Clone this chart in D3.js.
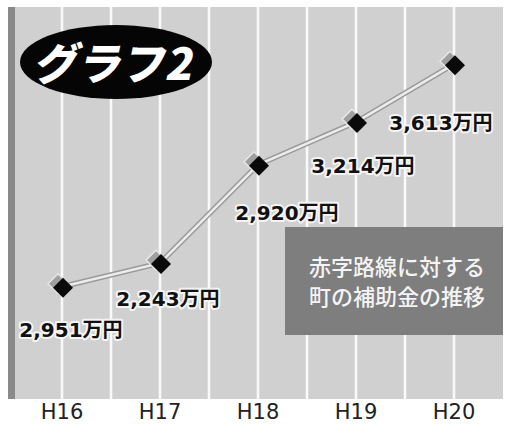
<!DOCTYPE html>
<html><head><meta charset="utf-8">
<script src="https://cdn.jsdelivr.net/npm/d3@7"></script>
<style>html,body{margin:0;padding:0;background:#fff;}svg{display:block;}</style>
</head><body>
<svg id="chart" width="505" height="425"></svg>
<script>
// Data
const categories = ["H16", "H17", "H18", "H19", "H20"];
const values = [2080, 2243, 2920, 3214, 3613];       // plotted values (万円), read from point positions
const valueLabels = ["2,951万円", "2,243万円", "2,920万円", "3,214万円", "3,613万円"];
const titleText = "グラフ2";
const noteLines = ["赤字路線に対する", "町の補助金の推移"];

// Layout
const W = 505, H = 425;
const plot = {left: 8, right: 503, top: 7, bottom: 399};
const labelOffsets = [[9, 50], [8, 43], [29, 55], [7, 51], [-13, 66]];

const svg = d3.select("#chart");

const x = d3.scalePoint().domain(categories).range([62, 454]);
const y = d3.scaleLinear().domain([1500, 3800]).range([371, 37]);

// Background
svg.append("rect").attr("x", plot.left).attr("y", plot.top)
  .attr("width", plot.right - plot.left).attr("height", plot.bottom - plot.top)
  .attr("fill", "#d0d0d0");
svg.append("rect").attr("x", plot.left).attr("y", plot.top)
  .attr("width", 7).attr("height", plot.bottom - plot.top)
  .attr("fill", "#8a8a8a");

// Vertical white grid lines at categories and midpoints
const step = x.step();
const gridXs = [];
categories.forEach((c, i) => {
  gridXs.push(x(c));
  if (i < categories.length - 1) gridXs.push(x(c) + step / 2);
});
svg.append("g").selectAll("line").data(gridXs).join("line")
  .attr("x1", d => d).attr("x2", d => d)
  .attr("y1", plot.top).attr("y2", plot.bottom)
  .attr("stroke", "#fafafa").attr("stroke-width", 2.5);

// Note box
const note = svg.append("g");
note.append("rect").attr("x", 285).attr("y", 227).attr("width", plot.right - 285).attr("height", 108)
  .attr("fill", "#7e7e7e");
note.selectAll("text").data(noteLines).join("text")
  .attr("x", 397).attr("y", (d, i) => 275 + i * 30)
  .attr("text-anchor", "middle")
  .attr("font-family", "'Noto Sans CJK JP', sans-serif")
  .attr("font-size", 22).attr("font-weight", 500)
  .attr("fill", "#f4f4f4")
  .text(d => d);

// Title ellipse
svg.append("ellipse").attr("cx", 116).attr("cy", 62).attr("rx", 96).attr("ry", 37).attr("fill", "#050505");
svg.append("text")
  .attr("transform", "translate(112,80) skewX(-12)")
  .attr("text-anchor", "middle")
  .attr("font-family", "'Noto Sans CJK JP', sans-serif")
  .attr("font-size", 44).attr("font-weight", 900)
  .attr("fill", "#fff")
  .text(titleText);

// Line
const pts = categories.map((c, i) => [x(c), y(values[i])]);
const line = d3.line();
svg.append("path").attr("d", line(pts)).attr("fill", "none")
  .attr("stroke", "#9a9a9a").attr("stroke-width", 5.5);
svg.append("path").attr("d", line(pts)).attr("fill", "none")
  .attr("stroke", "#ececec").attr("stroke-width", 2.5);

// Markers
const diamond = r => `M0,${-r}L${r},0L0,${r}L${-r},0Z`;
const mk = svg.append("g").selectAll("g").data(pts).join("g")
  .attr("transform", d => `translate(${d[0]},${d[1]})`);
mk.append("path").attr("d", diamond(10)).attr("transform", "translate(-4,-3)")
  .attr("fill", "#a0a0a0").attr("stroke", "#e6e6e6").attr("stroke-width", 1.5);
mk.append("path").attr("d", diamond(10)).attr("transform", "translate(1,1)")
  .attr("fill", "#0a0a0a");

// Value labels
svg.append("g").selectAll("text").data(pts).join("text")
  .attr("x", (d, i) => d[0] + labelOffsets[i][0])
  .attr("y", (d, i) => d[1] + labelOffsets[i][1])
  .attr("text-anchor", "middle")
  .attr("font-family", "'DejaVu Sans', 'Noto Sans CJK JP', sans-serif")
  .attr("font-size", 20).attr("font-weight", 700)
  .attr("fill", "#111")
  .attr("stroke", "#f4f4f4").attr("stroke-width", 4).attr("stroke-linejoin", "round")
  .attr("paint-order", "stroke")
  .text((d, i) => valueLabels[i]);

// X axis labels
svg.append("g").selectAll("text").data(categories).join("text")
  .attr("x", d => x(d)).attr("y", 419)
  .attr("text-anchor", "middle")
  .attr("font-family", "'DejaVu Sans', sans-serif")
  .attr("font-size", 21).attr("font-weight", 400)
  .attr("fill", "#222")
  .text(d => d);
</script>
</body></html>
